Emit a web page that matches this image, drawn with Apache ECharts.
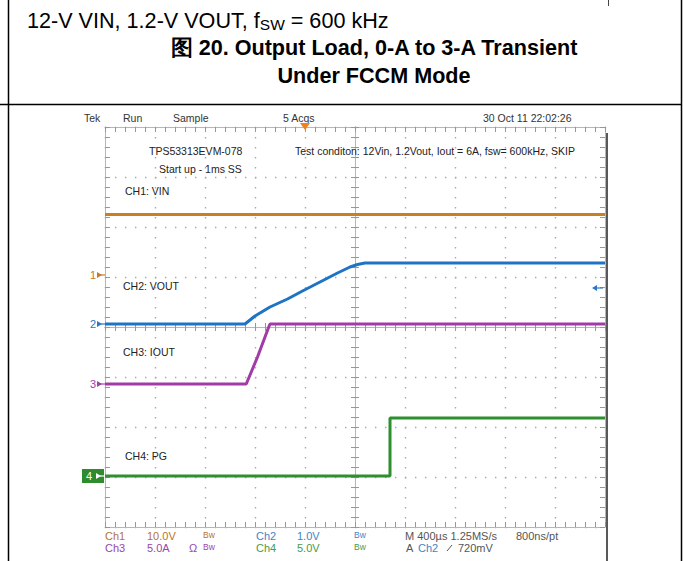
<!DOCTYPE html>
<html><head><meta charset="utf-8">
<script src="https://cdn.jsdelivr.net/npm/echarts@6/dist/echarts.min.js"></script>
<style>html,body{margin:0;padding:0;background:#fff}#c{width:683px;height:561px}</style>
</head><body><div id="c"></div>
<script>
// ---- time axis (µs), trigger at t = 0 ----
const timeRange = [-1600, 2400];
const timePerDiv = 400;
// ---- channels ----
const channelLabels = ['CH1: VIN', 'CH2: VOUT', 'CH3: IOUT', 'CH4: PG'];
const channelScales = [10, 1, 5, 5];          // units per division
const channelOffsets = [1.04, 0.06, -1.14, -2.98]; // ground marker, divisions from centre
const trigLevel = 0.72;                        // V on CH2
// ---- traces (time µs / value) ----
const vinT = [-1600, 2400];
const vinV = [12.1, 12.1];
const voutT = [-1600, -480, -440, -400, -280, -140, -20, 120, 260, 360, 420, 480, 2400];
const voutV = [0, 0, 0.08, 0.16, 0.34, 0.50, 0.66, 0.84, 1.02, 1.14, 1.19, 1.22, 1.22];
const ioutT = [-1600, -470, -380, -290, -280, 2400];
const ioutV = [0, 0, 2.7, 5.7, 6.0, 6.0];
const pgT = [-1600, 680, 680, 2400];
const pgV = [0, 0, 5.8, 5.8];

const traceColors = ['#c9801f', '#1e74c4', '#a23ba6', '#2f8f2f'];
const markColors = ['#c8782a', '#2a78c8', '#a040a8', '#2e8b2e'];
const tan = '#a8966c';
const SF = '"Liberation Sans", Arial, Helvetica, sans-serif';

function mk(ts, vs, ch) { return ts.map((t, i) => [t, vs[i] / channelScales[ch] + channelOffsets[ch]]); }

const chart = echarts.init(document.getElementById('c'), null, { renderer: 'svg' });
const gridRect = { left: 105, top: 127, width: 500, height: 400 };

function tickStyle(inside, len) {
  return {
    axisTick: { show: true, inside: inside, length: len, interval: 0, lineStyle: { color: tan, width: 1 } },
    minorTick: { show: true, splitNumber: 5, length: len, lineStyle: { color: tan, width: 1 } }
  };
}
function edgeAxis(pos, min, max, interval, split, grid) {
  return Object.assign({
    gridIndex: grid, type: 'value', min, max, interval, position: pos,
    axisLine: { show: true, onZero: false, lineStyle: { color: '#c4b595', width: 1 } },
    axisLabel: { show: false },
    splitLine: { show: split, lineStyle: { color: '#a9a9a9', width: 1.4, type: [1.4, 8.6] } }
  }, tickStyle(true, 5));
}
function centreAxis(pos, min, max, inside, grid) {
  return Object.assign({
    gridIndex: grid, type: 'value', min, max, interval: 1, position: pos,
    axisLine: { show: true, onZero: true, lineStyle: { color: '#c4b595', width: 1 } },
    axisLabel: { show: false }, splitLine: { show: false }
  }, tickStyle(inside, 4));
}

const xAxes = [
  edgeAxis('bottom', timeRange[0], timeRange[1], timePerDiv, true, 0),
  edgeAxis('top', timeRange[0], timeRange[1], timePerDiv, false, 0),
  centreAxis('bottom', -5, 5, true, 1),
  centreAxis('bottom', -5, 5, false, 2)
];
const yAxes = [
  edgeAxis('left', -4, 4, 1, true, 0),
  edgeAxis('right', -4, 4, 1, false, 0),
  centreAxis('left', -4, 4, true, 1),
  centreAxis('left', -4, 4, false, 2)
];

const traces = [[vinT, vinV], [voutT, voutV], [ioutT, ioutV], [pgT, pgV]];
const series = traces.map((tr, i) => ({
  type: 'line', xAxisIndex: 0, yAxisIndex: 0, data: mk(tr[0], tr[1], i),
  showSymbol: false, symbol: 'none', animation: false, z: 5,
  lineStyle: { color: traceColors[i], width: 3 }
}));

chart.setOption({
  animation: false,
  grid: [Object.assign({}, gridRect), Object.assign({}, gridRect), Object.assign({}, gridRect)],
  xAxis: xAxes, yAxis: yAxes, series
});

function T(x, y, text, size, color, opts) {
  opts = opts || {};
  return {
    type: 'text', x, y, silent: true, z: 10, scaleX: opts.sx || 1,
    style: Object.assign({ text, font: (opts.w || 'normal') + ' ' + size + 'px ' + SF, fill: color,
      textAlign: opts.align || 'left', textVerticalAlign: 'middle' }, opts.style || {})
  };
}
function L(x1, y1, x2, y2, color, w) {
  return { type: 'line', silent: true, z: 10, shape: { x1, y1, x2, y2 }, style: { stroke: color, lineWidth: w } };
}

const g = [];
// document frame
g.push(L(8.5, 0, 8.5, 561, '#000', 1.5));
g.push(L(681.5, 0, 681.5, 561, '#000', 1.5));
g.push(L(0, 104.5, 682, 104.5, '#000', 1.5));
g.push(L(608.5, 0, 608.5, 6, '#444', 1));
g.push(L(607, 133, 607, 561, '#222', 1.5));
// captions
g.push(T(27, 20, '12-V VIN, 1.2-V VOUT, f{sub|SW} = 600 kHz', 21.6, '#000', {
  style: { rich: { sub: { font: 'normal 15.5px ' + SF, fill: '#000', padding: [8, 0, 0, 0] } } } }));
g.push(T(374, 47, '图 20. Output Load, 0-A to 3-A Transient', 21.6, '#000', { w: 'bold', align: 'center' }));
g.push(T(374, 75, 'Under FCCM Mode', 21.6, '#000', { w: 'bold', align: 'center' }));
// scope header
const hc = '#333';
g.push(T(84, 118, 'Tek', 10.5, hc));
g.push(T(123, 118, 'Run', 10.5, hc));
g.push(T(173, 118, 'Sample', 10.5, hc));
g.push(T(283, 118, '5 Acqs', 10.5, hc));
g.push(T(483, 118, '30 Oct 11 22:02:26', 10.5, hc));
// annotations
g.push(T(149, 151, 'TPS53313EVM-078', 10.5, '#222'));
g.push(T(159, 169, 'Start up - 1ms SS', 10.5, '#222'));
g.push(T(295, 151, 'Test conditon: 12Vin, 1.2Vout, Iout = 6A, fsw= 600kHz, SKIP', 10.5, '#222'));
const labelPos = [[125, 191], [123, 286], [123, 352], [125, 456]];
channelLabels.forEach((s, i) => g.push(T(labelPos[i][0], labelPos[i][1], s, 10.5, '#222')));
// bottom readout
const c1 = '#b8732e', c2 = '#3f84c8', c3 = '#9a46a6', c4 = '#4a9a4a', cg = '#555';
g.push(T(105, 536, 'Ch1', 11, c1)); g.push(T(147, 536, '10.0V', 11, c1)); g.push(T(203, 535, 'Bw', 8.5, c1));
g.push(T(256, 536, 'Ch2', 11, c2)); g.push(T(297, 536, '1.0V', 11, c2)); g.push(T(354, 535, 'Bw', 8.5, c2));
g.push(T(405, 536, 'M 400\u00b5s 1.25MS/s', 11, cg)); g.push(T(516, 536, '800ns/pt', 11, cg));
g.push(T(105, 548, 'Ch3', 11, c3)); g.push(T(147, 548, '5.0A', 11, c3)); g.push(T(189, 548, '\u03a9', 11, c3)); g.push(T(203, 547, 'Bw', 8.5, c3));
g.push(T(256, 548, 'Ch4', 11, c4)); g.push(T(297, 548, '5.0V', 11, c4)); g.push(T(354, 547, 'Bw', 8.5, c4));
g.push(T(406, 548, 'A', 11, cg)); g.push(T(418, 548, 'Ch2', 11, c2));
g.push(L(447, 551, 452, 545, cg, 1));
g.push(T(458, 548, '720mV', 11, cg));

// channel ground markers
channelOffsets.forEach((off, i) => {
  const p = chart.convertToPixel({ gridIndex: 0 }, [timeRange[0], off]);
  const px = p[0], py = p[1];
  if (i < 3) {
    g.push(T(px - 15, py, String(i + 1), 11, markColors[i]));
    g.push(L(px - 6, py, px, py, markColors[i], 1.2));
    g.push({ type: 'polygon', silent: true, z: 10, shape: { points: [[px - 8, py - 3], [px - 3, py], [px - 8, py + 3]] }, style: { fill: markColors[i] } });
  } else {
    g.push({ type: 'rect', silent: true, z: 9, shape: { x: px - 23, y: py - 7, width: 22, height: 14 }, style: { fill: '#2e8b2e' } });
    g.push(T(px - 19, py, String(i + 1), 11, '#fff'));
    g.push(L(px - 8, py, px, py, '#fff', 1.2));
    g.push({ type: 'polygon', silent: true, z: 10, shape: { points: [[px - 9, py - 3], [px - 4, py], [px - 9, py + 3]] }, style: { fill: '#fff' } });
  }
});
// trigger position marker
const tp = chart.convertToPixel({ gridIndex: 0 }, [0, 4]);
g.push({ type: 'polygon', silent: true, z: 10, shape: { points: [[tp[0] - 5, tp[1] - 4], [tp[0] + 5, tp[1] - 4], [tp[0], tp[1] + 3]] }, style: { fill: '#f0821e' } });
// trigger level marker (CH2)
const tl = chart.convertToPixel({ gridIndex: 0 }, [timeRange[1], trigLevel / channelScales[1] + channelOffsets[1]]);
g.push({ type: 'polygon', silent: true, z: 10, shape: { points: [[tl[0] - 13, tl[1]], [tl[0] - 8, tl[1] - 3], [tl[0] - 8, tl[1] + 3]] }, style: { fill: '#2a78c8' } });
g.push(L(tl[0] - 8, tl[1], tl[0] - 2, tl[1], '#2a78c8', 1.2));

chart.setOption({ graphic: g });
</script></body></html>
